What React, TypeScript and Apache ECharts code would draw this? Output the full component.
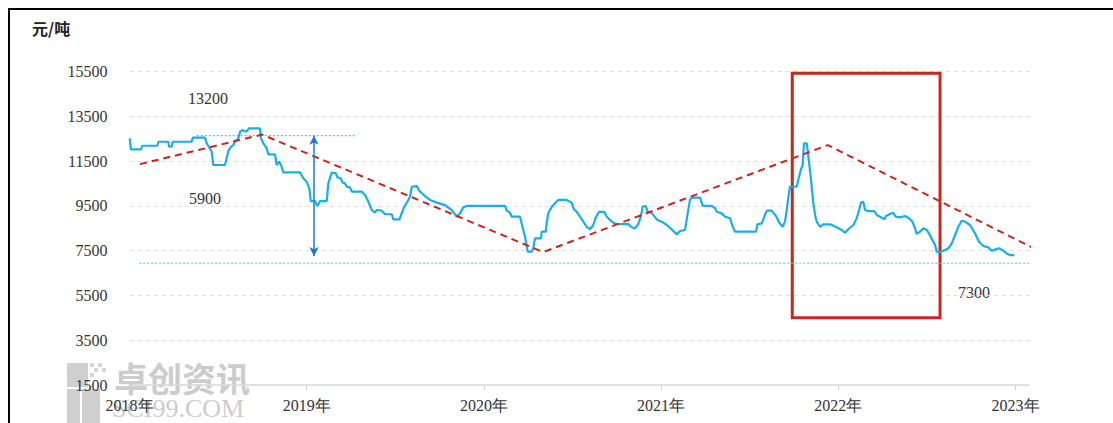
import React, { useEffect, useRef } from "react";
import * as echarts from "echarts";

// Price series (year as decimal, 元/吨)
const priceYears = [
  2018.001, 2018.008, 2018.065, 2018.072, 2018.157, 2018.163, 2018.219, 2018.223, 2018.238, 2018.244,
  2018.351, 2018.357, 2018.426, 2018.436, 2018.464, 2018.473, 2018.539, 2018.548, 2018.558, 2018.573,
  2018.586, 2018.595, 2018.614, 2018.624, 2018.637, 2018.661, 2018.674, 2018.736, 2018.742, 2018.755,
  2018.774, 2018.783, 2018.821, 2018.831, 2018.844, 2018.855, 2018.868, 2018.962, 2018.981, 2019.0,
  2019.015, 2019.023, 2019.047, 2019.06, 2019.075, 2019.113, 2019.122, 2019.141, 2019.165, 2019.173,
  2019.192, 2019.203, 2019.216, 2019.226, 2019.244, 2019.254, 2019.31, 2019.329, 2019.348, 2019.367,
  2019.385, 2019.395, 2019.423, 2019.442, 2019.48, 2019.489, 2019.523, 2019.536, 2019.549, 2019.568,
  2019.583, 2019.593, 2019.621, 2019.635, 2019.655, 2019.673, 2019.696, 2019.734, 2019.78, 2019.818,
  2019.846, 2019.865, 2019.884, 2019.903, 2020.119, 2020.129, 2020.147, 2020.157, 2020.204, 2020.213,
  2020.222, 2020.232, 2020.242, 2020.247, 2020.27, 2020.279, 2020.288, 2020.322, 2020.326, 2020.349,
  2020.354, 2020.363, 2020.383, 2020.401, 2020.42, 2020.467, 2020.495, 2020.508, 2020.524, 2020.542,
  2020.561, 2020.58, 2020.599, 2020.617, 2020.631, 2020.65, 2020.679, 2020.693, 2020.712, 2020.73,
  2020.749, 2020.815, 2020.834, 2020.853, 2020.871, 2020.885, 2020.896, 2020.913, 2020.924, 2020.945,
  2020.975, 2021.003, 2021.032, 2021.054, 2021.073, 2021.088, 2021.107, 2021.135, 2021.144, 2021.153,
  2021.163, 2021.173, 2021.22, 2021.235, 2021.286, 2021.304, 2021.314, 2021.342, 2021.361, 2021.389,
  2021.404, 2021.417, 2021.536, 2021.543, 2021.568, 2021.586, 2021.596, 2021.624, 2021.648, 2021.667,
  2021.686, 2021.699, 2021.709, 2021.718, 2021.727, 2021.765, 2021.774, 2021.788, 2021.799, 2021.806,
  2021.822, 2021.831, 2021.844, 2021.859, 2021.869, 2021.878, 2021.897, 2021.915, 2021.953, 2021.963,
  2021.991, 2022.019, 2022.038, 2022.056, 2022.085, 2022.104, 2022.117, 2022.128, 2022.141, 2022.151,
  2022.169, 2022.203, 2022.217, 2022.235, 2022.26, 2022.269, 2022.292, 2022.31, 2022.324, 2022.348,
  2022.376, 2022.399, 2022.418, 2022.433, 2022.442, 2022.461, 2022.48, 2022.499, 2022.517, 2022.53,
  2022.546, 2022.555, 2022.574, 2022.602, 2022.621, 2022.64, 2022.663, 2022.677, 2022.696, 2022.715,
  2022.743, 2022.771, 2022.794, 2022.818, 2022.846, 2022.866, 2022.888, 2022.907, 2022.931, 2022.95,
  2022.969, 2022.993,
];
const priceValues = [
  12520, 12030, 12030, 12190, 12190, 12370, 12370, 12150, 12150, 12370,
  12370, 12550, 12550, 12300, 11920, 11330, 11330, 11630, 11960, 12150,
  12220, 12370, 12520, 12820, 12890, 12820, 12970, 12970, 12520, 12300,
  12080, 11810, 11810, 11330, 11480, 11330, 11000, 11000, 10740, 10580,
  10290, 9720, 9720, 9500, 9720, 9720, 10510, 10990, 10960, 10780,
  10740, 10540, 10510, 10360, 10330, 10140, 10140, 9990, 9690, 9320,
  9200, 9320, 9290, 9130, 9130, 8900, 8900, 9170, 9440, 9690,
  9910, 10360, 10390, 10180, 10030, 9910, 9770, 9650, 9540, 9320,
  9020, 9170, 9440, 9500, 9500, 9290, 9200, 9020, 9020, 8720,
  8430, 8130, 7680, 7460, 7460, 7610, 8050, 8050, 8350, 8350,
  8720, 9170, 9470, 9620, 9770, 9770, 9650, 9350, 9240, 9020,
  8800, 8570, 8460, 8650, 8990, 9240, 9240, 9020, 8870, 8750,
  8690, 8690, 8550, 8500, 8690, 9020, 9470, 9500, 9240, 9200,
  8900, 8800, 8650, 8500, 8350, 8230, 8380, 8430, 8870, 9320,
  9770, 9870, 9870, 9500, 9500, 9400, 9240, 9170, 9020, 8950,
  8570, 8350, 8350, 8680, 8720, 9100, 9290, 9290, 9050, 8750,
  8570, 8800, 9320, 9910, 10360, 10360, 10660, 11110, 11330, 12300,
  12300, 11700, 10810, 9620, 9100, 8800, 8570, 8680, 8680, 8650,
  8550, 8430, 8300, 8460, 8650, 8950, 9320, 9650, 9690, 9320,
  9270, 9270, 9100, 9020, 8900, 9050, 9140, 9200, 9020, 8990,
  9050, 8950, 8800, 8500, 8250, 8350, 8500, 8430, 8200, 7980,
  7760, 7460, 7440, 7530, 7610, 7830, 8280, 8570, 8840, 8800,
  8650, 8280, 7900, 7710, 7650, 7500, 7560, 7610, 7500, 7380,
  7300, 7300,
];

// Red dashed trend line
const trendYears = [2018.059, 2018.748, 2020.334, 2021.94, 2023.155];
const trendValues = [11370, 12690, 7440, 12220, 7400];

// Dotted reference lines
const highRefYears = [2018.379, 2019.282];
const highRefValues = [12640, 12640];
const lowRefYears = [2018.055, 2023.155];
const lowRefValues = [6940, 6940];

// Range arrow
const arrowYears = [2019.041, 2019.041];
const arrowValues = [12640, 7260];

// Highlight box
const boxYears = [2021.74, 2022.574];
const boxValues = [15430, 4510];

// Axis ticks
const xTicks = [2018, 2019, 2020, 2021, 2022, 2023];
const yTicks = [1500, 3500, 5500, 7500, 9500, 11500, 13500, 15500];

// Annotation labels
const noteHigh = "13200";
const noteRange = "5900";
const noteLast = "7300";
const unitLabel = "元/吨";

const SERIF = '"Liberation Serif", "Times New Roman", serif';
const CJK = '"Noto Sans CJK SC", "Noto Sans", sans-serif';

export default function App() {
  const ref = useRef<HTMLDivElement>(null);

  useEffect(() => {
    if (!ref.current) return;
    const chart = echarts.init(ref.current, undefined, { renderer: "svg" });

    const pricePairs = priceYears.map((y, i) => [y, priceValues[i]]);
    const trendPairs = trendYears.map((y, i) => [y, trendValues[i]]);
    const highPairs = highRefYears.map((y, i) => [y, highRefValues[i]]);
    const lowPairs = lowRefYears.map((y, i) => [y, lowRefValues[i]]);

    const textStyle = { fill: "#333", font: `16px ${SERIF}` };

    chart.setOption({
      animation: false,
      backgroundColor: "#ffffff",
      grid: { left: 129.5, right: 84, top: 71.7, bottom: 38 },
      xAxis: {
        type: "value",
        min: 2018,
        max: 2023.076,
        axisLine: { show: true, lineStyle: { color: "#d9d9d9", width: 1.5 } },
        axisTick: { show: true, customValues: xTicks, length: 5, lineStyle: { color: "#d0d0d0" } },
        axisLabel: {
          customValues: xTicks,
          formatter: (v: number) => `${Math.round(v)}年`,
          color: "#333",
          fontSize: 16,
          fontFamily: SERIF,
          margin: 12,
        },
        splitLine: { show: false },
      },
      yAxis: {
        type: "value",
        min: 1500,
        max: 15500,
        axisLine: { show: false },
        axisTick: { show: false, customValues: yTicks },
        axisLabel: {
          customValues: yTicks,
          formatter: (v: number) => String(Math.round(v)),
          color: "#333",
          fontSize: 16,
          fontFamily: SERIF,
          margin: 22,
        },
        splitLine: { show: true, lineStyle: { color: "#dedede", type: [4, 4], width: 1 } },
      },
      series: [
        {
          type: "line",
          data: pricePairs,
          symbol: "none",
          lineStyle: { color: "#18aeea", width: 2.2 },
          z: 3,
        },
        {
          type: "line",
          data: trendPairs,
          symbol: "none",
          clip: false,
          lineStyle: { color: "#d0221c", width: 2, type: [7, 5] },
          z: 4,
        },
        {
          type: "line",
          data: highPairs,
          symbol: "none",
          lineStyle: { color: "#55c3ee", width: 1.2, type: [2, 2] },
          z: 2,
        },
        {
          type: "line",
          data: lowPairs,
          symbol: "none",
          clip: false,
          lineStyle: { color: "#55c3ee", width: 1.2, type: [2, 2] },
          z: 2,
        },
        {
          type: "line",
          data: [],
          symbol: "none",
          z: 5,
          markLine: {
            silent: true,
            symbol: ["arrow", "arrow"],
            symbolSize: [7, 9],
            label: { show: false },
            lineStyle: { color: "#1f78c6", width: 1.5, type: "solid" },
            data: [[{ coord: [arrowYears[0], arrowValues[0]] }, { coord: [arrowYears[1], arrowValues[1]] }]],
          },
        },
        {
          type: "line",
          data: [],
          symbol: "none",
          z: 6,
          markArea: {
            silent: true,
            itemStyle: { color: "rgba(0,0,0,0)", borderColor: "#c9271c", borderWidth: 3 },
            data: [[{ coord: [boxYears[0], boxValues[0]] }, { coord: [boxYears[1], boxValues[1]] }]],
          },
        },
      ],
      graphic: [
        // watermark
        { type: "rect", z: -1, shape: { x: 67, y: 363, width: 21, height: 24 }, style: { fill: "#cfcfcf" } },
        { type: "rect", z: -1, shape: { x: 67, y: 389, width: 13, height: 34 }, style: { fill: "#cfcfcf" } },
        { type: "rect", z: -1, shape: { x: 82, y: 389, width: 18, height: 34 }, style: { fill: "#cfcfcf" } },
        { type: "rect", z: -1, shape: { x: 90, y: 363, width: 4, height: 4 }, style: { fill: "#d6d6d6" } },
        { type: "rect", z: -1, shape: { x: 98, y: 363, width: 4, height: 4 }, style: { fill: "#d6d6d6" } },
        { type: "rect", z: -1, shape: { x: 94, y: 368, width: 4, height: 4 }, style: { fill: "#d6d6d6" } },
        { type: "rect", z: -1, shape: { x: 102, y: 368, width: 4, height: 4 }, style: { fill: "#d6d6d6" } },
        { type: "rect", z: -1, shape: { x: 90, y: 373, width: 4, height: 4 }, style: { fill: "#d6d6d6" } },
        {
          type: "text",
          z: -1,
          x: 114,
          y: 377,
          style: { text: "卓创资讯", fill: "#cccccc", font: `bold 34px ${CJK}`, verticalAlign: "middle" },
        },
        {
          type: "text",
          z: -1,
          x: 112,
          y: 408,
          style: { text: "SCI99.COM", fill: "#cccccc", font: `26px ${SERIF}`, verticalAlign: "middle" },
        },
        // frame
        {
          type: "rect",
          shape: { x: 9, y: 9, width: 1200, height: 500 },
          style: { fill: "none", stroke: "#000", lineWidth: 2 },
        },
        // unit
        {
          type: "text",
          x: 32,
          y: 28,
          style: { text: unitLabel, fill: "#222", font: `bold 16px ${CJK}`, verticalAlign: "middle" },
        },
        { type: "text", x: 188, y: 98, style: { ...textStyle, text: noteHigh, verticalAlign: "middle" } },
        { type: "text", x: 189, y: 198, style: { ...textStyle, text: noteRange, verticalAlign: "middle" } },
        { type: "text", x: 958, y: 292, style: { ...textStyle, text: noteLast, verticalAlign: "middle" } },
      ],
    });

    return () => chart.dispose();
  }, []);

  return (
    <div
      ref={ref}
      style={{ position: "absolute", left: 0, top: 0, width: 1113, height: 423, background: "#fff" }}
    />
  );
}
